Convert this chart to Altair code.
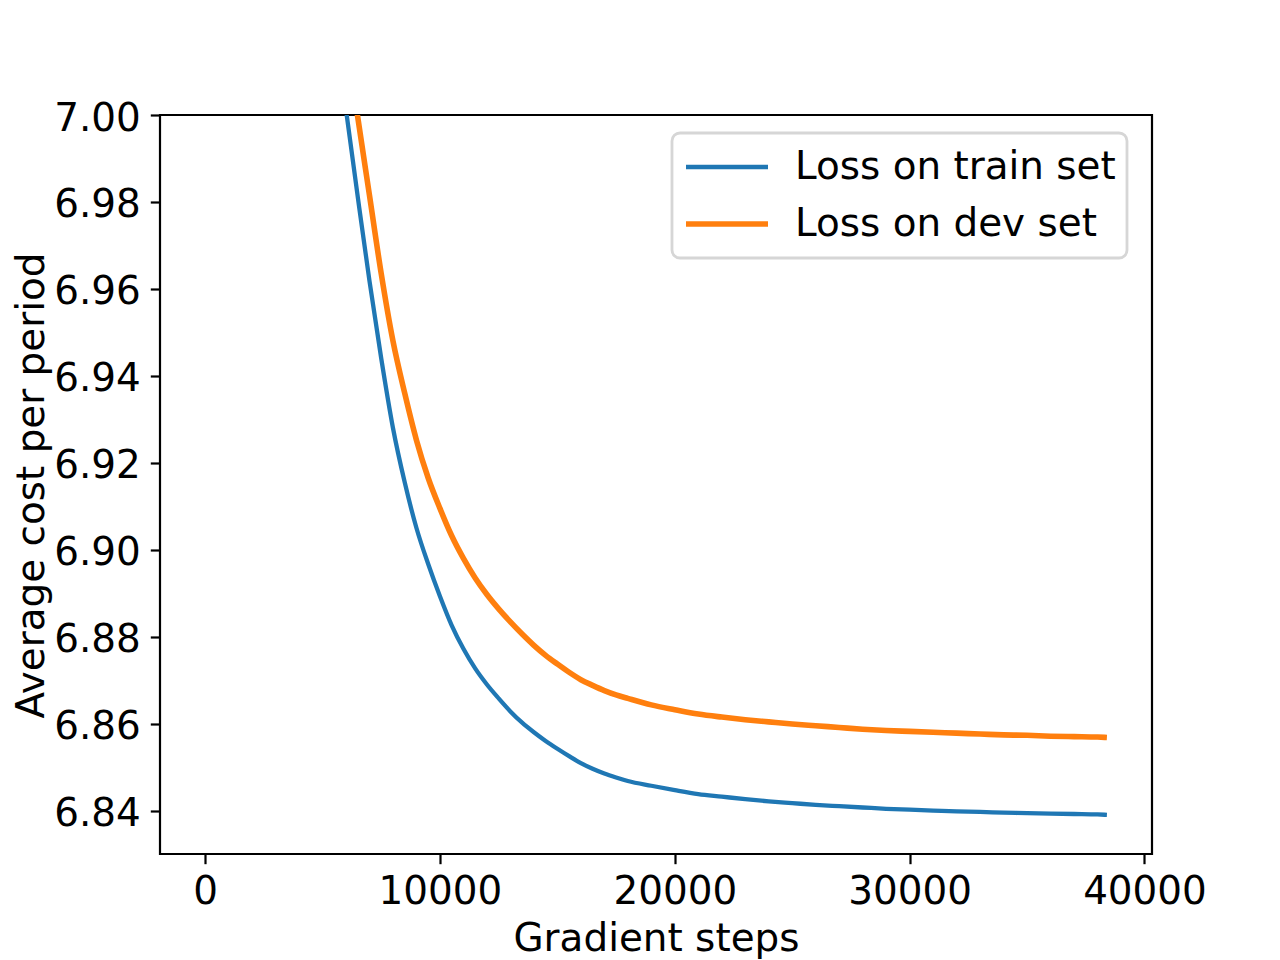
import altair as alt
import pandas as pd

# ---- data ----
SERIES = ["Loss on train set", "Loss on dev set"]
COLORS = ["#1f77b4", "#ff7f0e"]

steps_train = [5500, 6000, 6500, 7000, 7500, 8000, 8500, 9000, 9500, 10000,
               10500, 11000, 11500, 12000, 12500, 13000, 13500, 14000, 14500,
               15000, 15500, 16000, 16500, 17000, 17500, 18000, 19000, 20000,
               21000, 22000, 23000, 24000, 25000, 26000, 27000, 28000, 29000,
               30000, 31000, 32000, 33000, 34000, 35000, 36000, 37000, 38000,
               38400]
loss_train = [7.0222, 7.0012, 6.9812, 6.9618, 6.9440, 6.9280, 6.9155, 6.9050,
              6.8967, 6.8893, 6.8826, 6.8772, 6.8727, 6.8690, 6.8658, 6.8628,
              6.8602, 6.8580, 6.8560, 6.8542, 6.8525, 6.8509, 6.8496, 6.8485,
              6.8476, 6.8468, 6.8457, 6.8447, 6.8438, 6.8432, 6.8426, 6.8421,
              6.8417, 6.8413, 6.8410, 6.8407, 6.8404, 6.8402, 6.8400, 6.8398,
              6.8397, 6.8395, 6.8394, 6.8393, 6.8392, 6.8391, 6.8390]

steps_dev = [6000, 6500, 7000, 7500, 8000, 8500, 9000, 9500, 10000, 10500,
             11000, 11500, 12000, 12500, 13000, 13500, 14000, 14500, 15000,
             15500, 16000, 16500, 17000, 17500, 18000, 19000, 20000, 21000,
             22000, 23000, 24000, 25000, 26000, 27000, 28000, 29000, 30000,
             31000, 32000, 33000, 34000, 35000, 36000, 37000, 38000, 38400]
loss_dev = [7.0180, 6.9995, 6.9815, 6.9635, 6.9480, 6.9360, 6.9252, 6.9165,
            6.9095, 6.9032, 6.8980, 6.8935, 6.8897, 6.8864, 6.8834, 6.8806,
            6.8780, 6.8757, 6.8737, 6.8718, 6.8701, 6.8688, 6.8676, 6.8666,
            6.8658, 6.8643, 6.8632, 6.8622, 6.8615, 6.8609, 6.8604, 6.8599,
            6.8595, 6.8591, 6.8587, 6.8584, 6.8582, 6.8580, 6.8578, 6.8576,
            6.8574, 6.8573, 6.8571, 6.8570, 6.8569, 6.8568]

x_ticks = [0, 10000, 20000, 30000, 40000]
y_ticks = [6.84, 6.86, 6.88, 6.90, 6.92, 6.94, 6.96, 6.98, 7.00]

df = pd.concat([
    pd.DataFrame({"step": steps_train, "loss": loss_train, "series": SERIES[0]}),
    pd.DataFrame({"step": steps_dev, "loss": loss_dev, "series": SERIES[1]}),
], ignore_index=True)

FONT = "DejaVu Sans"
FS = 38.9

chart = alt.Chart(df).mark_line(clip=True, interpolate="monotone").encode(
    x=alt.X("step:Q",
            scale=alt.Scale(domain=[-1920, 40320], nice=False, zero=False),
            axis=alt.Axis(values=x_ticks, format="d", title="Gradient steps",
                          labelPadding=9, labelFlush=False,
                          titleY=96, titleBaseline="alphabetic")),
    y=alt.Y("loss:Q",
            scale=alt.Scale(domain=[6.83, 7.00], nice=False, zero=False),
            axis=alt.Axis(values=y_ticks, format=".2f",
                          title="Average cost per period",
                          labelPadding=10, labelOffset=3,
                          titleX=-117, titleY=370, titleAngle=270,
                          titleAlign="center", titleBaseline="alphabetic")),
    color=alt.Color("series:N",
                    scale=alt.Scale(domain=SERIES, range=COLORS),
                    legend=alt.Legend(title=None, orient="none",
                                      legendX=512, legendY=18,
                                      symbolType="stroke", symbolSize=6724,
                                      symbolStrokeWidth=4.2,
                                      labelFont=FONT, labelFontSize=FS,
                                      labelColor="black", labelOffset=24,
                                      labelLimit=800,
                                      padding=11, clipHeight=46, rowPadding=11,
                                      fillColor="white", strokeColor="#d6d6d6",
                                      cornerRadius=8)),
    strokeWidth=alt.StrokeWidth("series:N",
                                scale=alt.Scale(domain=SERIES, range=[4.3, 5.6]),
                                legend=None),
).properties(
    width=992, height=739,
    autosize=alt.AutoSizeParams(type="none"),
    padding={"left": 152, "top": 107, "right": 100, "bottom": 106},
    background="white",
).configure_view(
    stroke="black", strokeWidth=2.2
).configure_axis(
    grid=False, domain=False,
    tickColor="black", tickWidth=2.2, tickSize=9.7,
    labelFont=FONT, labelFontSize=FS, labelColor="black",
    titleFont=FONT, titleFontSize=FS, titleColor="black",
    titleFontWeight="normal",
).configure_legend(
    strokeWidth=2.8
)

chart.save("out.html", embed_options={"renderer": "svg", "actions": False})
